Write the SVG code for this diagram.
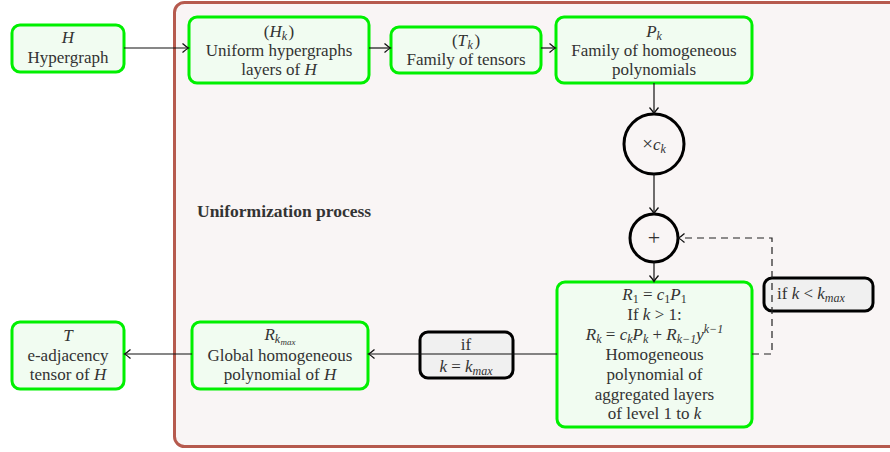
<svg xmlns="http://www.w3.org/2000/svg" width="890" height="452" viewBox="0 0 890 452" font-family="'Liberation Serif', 'DejaVu Serif', serif">
<style>
text{font-family:'Liberation Serif','DejaVu Serif',serif;font-size:17px;fill:#333;text-anchor:middle}
.i{font-style:italic}
.s{font-size:12px;font-style:italic}
.n{font-size:12px;font-style:normal}
.ss{font-size:9px;font-style:italic}
.node rect{fill:#f1fcf1;stroke:#00f000;stroke-width:3}
.lab rect{fill:#f0f0f0;stroke:#000;stroke-width:3}
.op circle{fill:#f9f5f5;stroke:#000;stroke-width:3}
.c{fill:none;stroke:#111;stroke-width:1.2}
.d{fill:none;stroke:#222;stroke-width:1.2;stroke-dasharray:7,5}
</style>
<defs>
<marker id="arr" viewBox="-7 -6 9 12" refX="0" refY="0" markerWidth="9" markerHeight="12" orient="auto" markerUnits="userSpaceOnUse">
<path d="M-5.5,-4.5 Q-1.5,-1 0.5,0 Q-1.5,1 -5.5,4.5" fill="none" stroke="#111" stroke-width="1.3"/>
</marker>
</defs>
<rect x="174.5" y="2.5" width="740" height="444" rx="10" fill="#f9f5f5" stroke="#b65a4e" stroke-width="3"/>
<text x="197" y="217" style="font-weight:bold;text-anchor:start;font-size:17.5px">Uniformization process</text>

<g id="nH" class="node"><rect x="12" y="25" width="112" height="47" rx="8"/>
<text x="68" y="43" class="i">H</text><text x="68" y="63">Hypergraph</text></g>

<g id="nHk" class="node"><rect x="189" y="17" width="180" height="66" rx="8"/>
<text x="279" y="37">(<tspan class="i">H</tspan><tspan class="s" dy="3">k</tspan><tspan dy="-3" dx="1.5">)</tspan></text>
<text x="279" y="56">Uniform hypergraphs</text>
<text x="279" y="75">layers of <tspan class="i">H</tspan></text></g>

<g id="nTk" class="node"><rect x="391" y="27" width="150" height="46" rx="8"/>
<text x="466" y="46">(<tspan class="i">T</tspan><tspan class="s" dy="3" dx="0.5">k</tspan><tspan dy="-3" dx="1.5">)</tspan></text>
<text x="466" y="65">Family of tensors</text></g>

<g id="nPk" class="node"><rect x="556" y="17" width="196" height="66" rx="8"/>
<text x="654" y="37"><tspan class="i">P</tspan><tspan class="s" dy="3">k</tspan></text>
<text x="654" y="56">Family of homogeneous</text>
<text x="654" y="75">polynomials</text></g>

<g id="nMul" class="op"><circle cx="654" cy="144" r="30"/>
<text x="654" y="150"><tspan style="font-size:19px">×</tspan><tspan class="i">c</tspan><tspan class="s" dy="3">k</tspan></text></g>

<g id="nPlus" class="op"><circle cx="654" cy="238" r="24"/>
<text x="654" y="245" style="font-size:22px">+</text></g>

<g id="nR" class="node"><rect x="557" y="282" width="195" height="145" rx="8"/>
<text x="654.5" y="300"><tspan class="i">R</tspan><tspan class="n" dy="3">1</tspan><tspan dy="-3"> = </tspan><tspan class="i">c</tspan><tspan class="n" dy="3">1</tspan><tspan class="i" dy="-3">P</tspan><tspan class="n" dy="3">1</tspan></text>
<text x="654.5" y="320">If <tspan class="i">k</tspan> &gt; 1:</text>
<text x="654.5" y="340"><tspan class="i">R</tspan><tspan class="s" dy="3">k</tspan><tspan dy="-3"> = </tspan><tspan class="i">c</tspan><tspan class="s" dy="3">k</tspan><tspan class="i" dy="-3">P</tspan><tspan class="s" dy="3">k</tspan><tspan dy="-3"> + </tspan><tspan class="i">R</tspan><tspan class="s" dy="3">k−1</tspan><tspan class="i" dy="-3">y</tspan><tspan class="s" dy="-7">k−1</tspan></text>
<text x="654.5" y="360">Homogeneous</text>
<text x="654.5" y="380">polynomial of</text>
<text x="654.5" y="400">aggregated layers</text>
<text x="654.5" y="419">of level 1 to <tspan class="i">k</tspan></text></g>

<g id="nRmax" class="node"><rect x="192" y="322" width="176" height="67" rx="8"/>
<text x="280" y="340"><tspan class="i">R</tspan><tspan class="s" dy="3">k</tspan><tspan class="ss" dy="2" dx="0.5">max</tspan></text>
<text x="280" y="361">Global homogeneous</text>
<text x="280" y="380">polynomial of <tspan class="i">H</tspan></text></g>

<g id="nT" class="node"><rect x="12" y="322" width="112" height="67" rx="8"/>
<text x="68" y="341" class="i">T</text>
<text x="68" y="361">e-adjacency</text>
<text x="68" y="380">tensor of <tspan class="i">H</tspan></text></g>

<g id="lLess" class="lab"><rect x="764" y="278" width="109" height="33" rx="8"/>
<text x="777" y="299" style="text-anchor:start">if <tspan class="i">k</tspan> &lt; <tspan class="i">k</tspan><tspan class="s" dy="3">max</tspan></text></g>

<g id="lEq" class="lab"><rect x="420" y="332" width="93" height="46" rx="8"/>
<text x="466" y="350">if</text>
<text x="466" y="372"><tspan class="i">k</tspan> = <tspan class="i">k</tspan><tspan class="s" dy="3">max</tspan></text></g>

<g id="connectors">
<path class="c" d="M124,48 H188" marker-end="url(#arr)"/>
<path class="c" d="M369,48 H390" marker-end="url(#arr)"/>
<path class="c" d="M541,48 H555" marker-end="url(#arr)"/>
<path class="c" d="M654,83 V113" marker-end="url(#arr)"/>
<path class="c" d="M654,174 V213" marker-end="url(#arr)"/>
<path class="c" d="M654,262 V281" marker-end="url(#arr)"/>
<path class="c" d="M557,354 H369" marker-end="url(#arr)"/>
<path class="c" d="M192,354 H125" marker-end="url(#arr)"/>
<path class="d" d="M752,354 H772 V238 H679" marker-end="url(#arr)"/>
</g>
</svg>
